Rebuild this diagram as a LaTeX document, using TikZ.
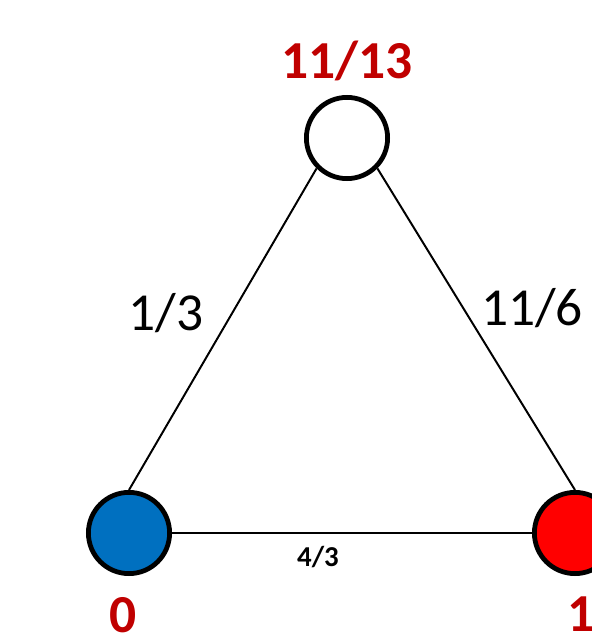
\documentclass[tikz,border=0pt]{standalone}
\usepackage{fontspec}
\setmainfont{Carlito}
\usepackage{xcolor}
\definecolor{darkred}{HTML}{C00000}
\definecolor{vblue}{HTML}{0070C0}
\definecolor{vred}{HTML}{FF0000}

\begin{document}
\begin{tikzpicture}[
    x=0.025cm, y=-0.025cm,
    vertex/.style={draw, circle, line width=3.4pt, minimum size=2.03cm, inner sep=0pt},
    edge/.style={line width=1.4pt},
    score/.style={font=\fontsize{38}{42}\selectfont\bfseries, text=darkred},
    weight/.style={font=\fontsize{38}{42}\selectfont}
]
\useasboundingbox (0,0) rectangle (592,639);
\node[vertex, fill=white] (top) at (347,138) {};
\node[vertex, fill=vblue] (left) at (129,533) {};
\node[vertex, fill=vred] (right) at (575,533) {};

\node[score] (topscore) at (347,61) {11/13};
\node[score] (leftscore) at (123,615) {0};
\node[score] (rightscore) at (581,614) {1};

\draw[edge] (top.-135) -- (left.north);
\draw[edge] (top.-45) -- (right.north);
\draw[edge] (left) -- (right);

\node[weight] (wl) at (166,313) {1/3};
\node[weight] (wr) at (532,308) {11/6};
\node[font=\fontsize{20.5}{24}\selectfont\bfseries] (wb) at (318,557) {4/3};
\end{tikzpicture}
\end{document}
